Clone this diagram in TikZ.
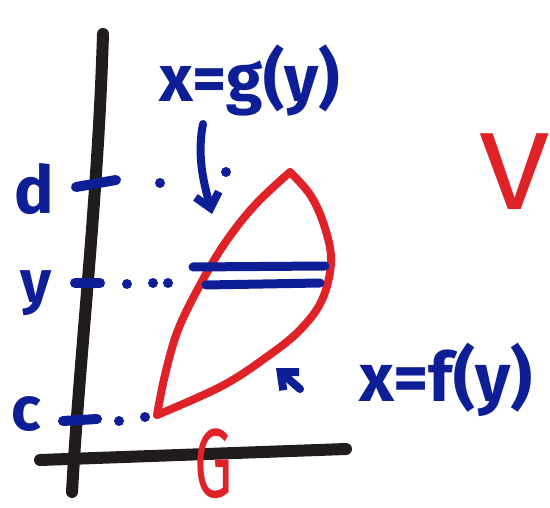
\documentclass[tikz,border=0pt]{standalone}
\usepackage{fontspec}
\setmainfont{Fira Sans}
\usetikzlibrary{arrows.meta}
\definecolor{mblue}{RGB}{14,30,150}
\definecolor{mred}{RGB}{222,34,40}
\definecolor{mblack}{RGB}{32,28,28}
\tikzset{
  axisline/.style={mblack,line width=12pt,line cap=round},
  redline/.style={mred,line width=8pt,line cap=round,line join=round},
  blueline/.style={mblue,line width=9pt,line cap=round},
  ticks/.style={mblue,line width=10pt,line cap=round},
  dotmark/.style={mblue,fill=mblue,circle,inner sep=0pt,minimum size=10pt},
  bluelabel/.style={mblue,font=\bfseries,inner sep=0pt,anchor=base},
  redlabel/.style={mred,inner sep=0pt,anchor=base},
  pointer/.style={mblue,line width=8pt,line cap=round,-{Straight Barb[length=14pt,width=24pt,line width=8pt]}}
}
\begin{document}
\begin{tikzpicture}[x=1pt,y=-1pt]
\useasboundingbox (0,0) rectangle (550,508);
\clip (0,0) rectangle (550,508);
% axes
\coordinate (vtop) at (103,34);
\coordinate (vbot) at (72,492);
\coordinate (hleft) at (40,460);
\coordinate (hright) at (346,449);
\draw[axisline] (vtop) .. controls (98,200) and (80,350) .. (vbot);
\draw[axisline] (hleft) -- (hright);
% ticks
\coordinate (d1) at (76,187); \coordinate (d2) at (116,180);
\coordinate (y1) at (75,283); \coordinate (y2) at (100,283);
\coordinate (c1) at (63,421); \coordinate (c2) at (97,419);
\draw[ticks] (d1) -- (d2);
\draw[ticks] (y1) -- (y2);
\draw[ticks] (c1) -- (c2);
% dots
\node[dotmark] (dd1) at (160,183) {};
\node[dotmark] (dd2) at (226,172) {};
\node[dotmark] (yd1) at (127,284) {};
\node[dotmark] (yd2) at (153,283) {};
\node[dotmark] (yd3) at (168,283) {};
\node[dotmark] (cd1) at (119,421) {};
\node[dotmark] (cd2) at (145,417) {};
% region
\coordinate (rbot) at (157,415);
\coordinate (rtop) at (290,172);
\draw[redline] plot[smooth,tension=0.6] coordinates {(rbot) (165,375) (178,330) (200,285) (225,243) (255,205) (rtop)};
\draw[redline] plot[smooth,tension=0.6] coordinates {(rtop) (311,196) (325,228) (331,262) (322,300) (300,330) (268,356) (222,386) (rbot)};
% strip
\coordinate (s1a) at (193,267); \coordinate (s1b) at (325,266);
\coordinate (s2a) at (206,285); \coordinate (s2b) at (320,283);
\draw[blueline] (s1a) -- (s1b);
\draw[blueline] (s2a) -- (s2b);
% labels
\node[bluelabel,font=\bfseries\fontsize{66}{66}\selectfont] (gl) at (250,102) {x=g(y)};
\node[bluelabel,font=\bfseries\fontsize{68}{68}\selectfont] (fl) at (446,402) {x=f(y)};
\node[bluelabel,font=\bfseries\fontsize{66}{66}\selectfont] (dl) at (34,214) {d};
\node[bluelabel,font=\bfseries\fontsize{60}{60}\selectfont] (yl) at (36,303) {y};
\node[bluelabel,font=\bfseries\fontsize{62}{62}\selectfont] (cl) at (26,431) {c};
\node[redlabel,font=\fontsize{110}{110}\selectfont,xscale=1.15] (vl) at (515,210) {V};
\node[redlabel,font=\fontsize{98}{98}\selectfont,xscale=0.62] (gg) at (214,497) {G};
% pointers
\coordinate (gstart) at (203,124);
\coordinate (gtip) at (212,214);
\coordinate (ftip) at (276,368);
\coordinate (fstart) at (300,389);
\draw[pointer] (gstart) .. controls (196,160) and (206,190) .. (gtip);
\draw[pointer] (fstart) -- (ftip);
\end{tikzpicture}
\end{document}
